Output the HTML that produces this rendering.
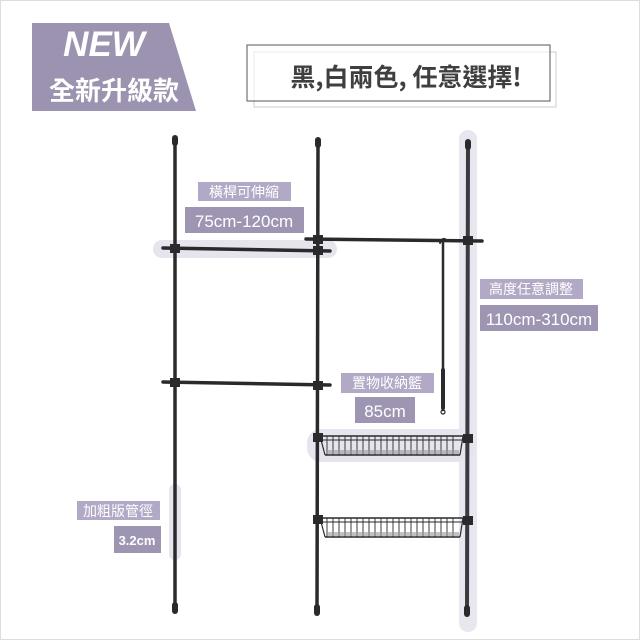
<!DOCTYPE html>
<html><head><meta charset="utf-8"><style>
html,body{margin:0;padding:0;background:#fff;}
body{width:640px;height:640px;overflow:hidden;position:relative;font-family:"Liberation Sans","Noto Sans CJK TC",sans-serif;}
svg{position:absolute;left:0;top:0;}
</style></head><body>
<svg width="640" height="640" viewBox="0 0 640 640" xmlns="http://www.w3.org/2000/svg">
<rect x="0.5" y="0.5" width="639" height="639" fill="none" stroke="#ddd"/>
<!-- badge -->
<polygon points="32,23 169,23 196,111 32,111" fill="#9c93b0"/>
<text x="104" y="56" text-anchor="middle" font-family="Liberation Sans,sans-serif" font-weight="bold" font-style="italic" font-size="35" fill="#fff">NEW</text>
<text x="114" y="100" text-anchor="middle" font-family="Noto Sans CJK TC,sans-serif" font-weight="bold" font-size="26" fill="#fff">全新升級款</text>
<!-- title boxes -->
<rect x="254" y="52" width="302" height="55" fill="none" stroke="#ccc" stroke-width="1"/>
<rect x="247" y="45" width="303" height="56" fill="#fff" fill-opacity="0.6" stroke="#555" stroke-width="1"/>
<text x="406" y="86" text-anchor="middle" font-family="Noto Sans CJK TC,sans-serif" font-weight="bold" font-size="25" fill="#3f3f3f">黑,白兩色, 任意選擇!</text>
<!-- highlights -->
<rect x="459" y="130" width="18" height="502" rx="9" fill="#e8e6ee"/>
<rect x="153" y="240" width="184" height="18" rx="9" fill="#e6e4ec"/>
<rect x="307" y="429" width="168" height="33" rx="14" fill="#e6e4ec"/>
<rect x="169" y="484" width="12" height="76" rx="6" fill="#e6e4ec"/>
<!-- poles -->
<g stroke="#2a2a2d" stroke-linecap="round">
<line x1="175" y1="140" x2="175" y2="610" stroke-width="3.5"/>
<line x1="318" y1="142" x2="317" y2="612" stroke-width="3.5"/>
<line x1="468" y1="144" x2="467" y2="613" stroke-width="4" stroke="#3a3a40"/>
<line x1="175" y1="138" x2="175" y2="143" stroke-width="6"/>
<line x1="318" y1="140" x2="318" y2="145" stroke-width="6"/>
<line x1="468" y1="142" x2="468" y2="147" stroke-width="6"/>
<line x1="175" y1="605" x2="175" y2="611" stroke-width="6"/>
<line x1="317" y1="607" x2="317" y2="613" stroke-width="6"/>
<line x1="467" y1="608" x2="467" y2="614" stroke-width="6"/>
<line x1="163" y1="248" x2="330" y2="251" stroke-width="3.5"/>
<line x1="306" y1="239" x2="482" y2="241" stroke-width="3.5"/>
<line x1="163" y1="382" x2="330" y2="385" stroke-width="3.5"/>
<rect x="170" y="244" width="10" height="9" fill="#2a2a2d" stroke="none"/>
<rect x="313" y="246" width="10" height="9" fill="#2a2a2d" stroke="none"/>
<rect x="313" y="235" width="10" height="9" fill="#2a2a2d" stroke="none"/>
<rect x="463" y="236" width="10" height="9" fill="#2a2a2d" stroke="none"/>
<rect x="170" y="378" width="10" height="9" fill="#2a2a2d" stroke="none"/>
<rect x="313" y="381" width="10" height="9" fill="#2a2a2d" stroke="none"/>
<path d="M440,243 q3,-7 7,-2" fill="none" stroke-width="2"/>
<line x1="443" y1="243" x2="443" y2="410" stroke-width="2.5"/>
<line x1="443" y1="370" x2="443" y2="408" stroke-width="4"/>
<circle cx="443" cy="412" r="2" fill="none" stroke-width="1.2"/>
</g>
<!-- baskets -->
<g stroke="#2a2a2d" fill="none">
<g id="b1">
<line x1="320" y1="436" x2="463" y2="436" stroke-width="1.5"/>
<line x1="320" y1="440" x2="463" y2="440" stroke-width="1"/>
<line x1="325" y1="455" x2="460" y2="455" stroke-width="1.5"/>
<path d="M320,436 L325,455 M463,436 L460,455" stroke-width="1.2"/>
<g stroke-width="0.9">
<path d="M327,436v19M333,436v19M339,436v19M345,436v19M351,436v19M357,436v19M363,436v19M369,436v19M375,436v19M381,436v19M387,436v19M393,436v19M399,436v19M405,436v19M411,436v19M417,436v19M423,436v19M429,436v19M435,436v19M441,436v19M447,436v19M453,436v19"/>
</g>
<rect x="326" y="450" width="133" height="4" fill="#9a9a9e" stroke="none" opacity="0.6"/>
</g>
<use href="#b1" transform="translate(0,82)"/>
</g>
<rect x="313" y="433" width="10" height="9" fill="#2a2a2d"/>
<rect x="463" y="434" width="10" height="9" fill="#2a2a2d"/>
<rect x="313" y="515" width="10" height="9" fill="#2a2a2d"/>
<rect x="463" y="516" width="10" height="9" fill="#2a2a2d"/>
<!-- labels -->
<g font-family="Noto Sans CJK TC,sans-serif" fill="#fff" text-anchor="middle">
<rect x="198" y="182" width="93" height="19" fill="#b1a9c5"/>
<text x="244" y="197" font-size="14">橫桿可伸縮</text>
<rect x="185" y="207" width="119" height="26" fill="#9e95b2"/>
<text x="244" y="227" font-size="17" font-family="Liberation Sans,sans-serif">75cm-120cm</text>
<rect x="480" y="279" width="103" height="20" fill="#b1a9c5"/>
<text x="531" y="294" font-size="14">高度任意調整</text>
<rect x="480" y="305" width="118" height="26" fill="#9e95b2"/>
<text x="539" y="325" font-size="17" font-family="Liberation Sans,sans-serif">110cm-310cm</text>
<rect x="341" y="373" width="93" height="20" fill="#b1a9c5"/>
<text x="387" y="388" font-size="14">置物收納籃</text>
<rect x="355" y="397" width="60" height="26" fill="#9e95b2"/>
<text x="385" y="417" font-size="17" font-family="Liberation Sans,sans-serif">85cm</text>
<rect x="77" y="501" width="83" height="19" fill="#b1a9c5"/>
<text x="118" y="516" font-size="14">加粗版管徑</text>
<rect x="114" y="526" width="47" height="27" fill="#9e95b2"/>
<text x="137" y="545" font-size="13" font-weight="bold" font-family="Liberation Sans,sans-serif">3.2cm</text>
</g>
</svg>
</body></html>
